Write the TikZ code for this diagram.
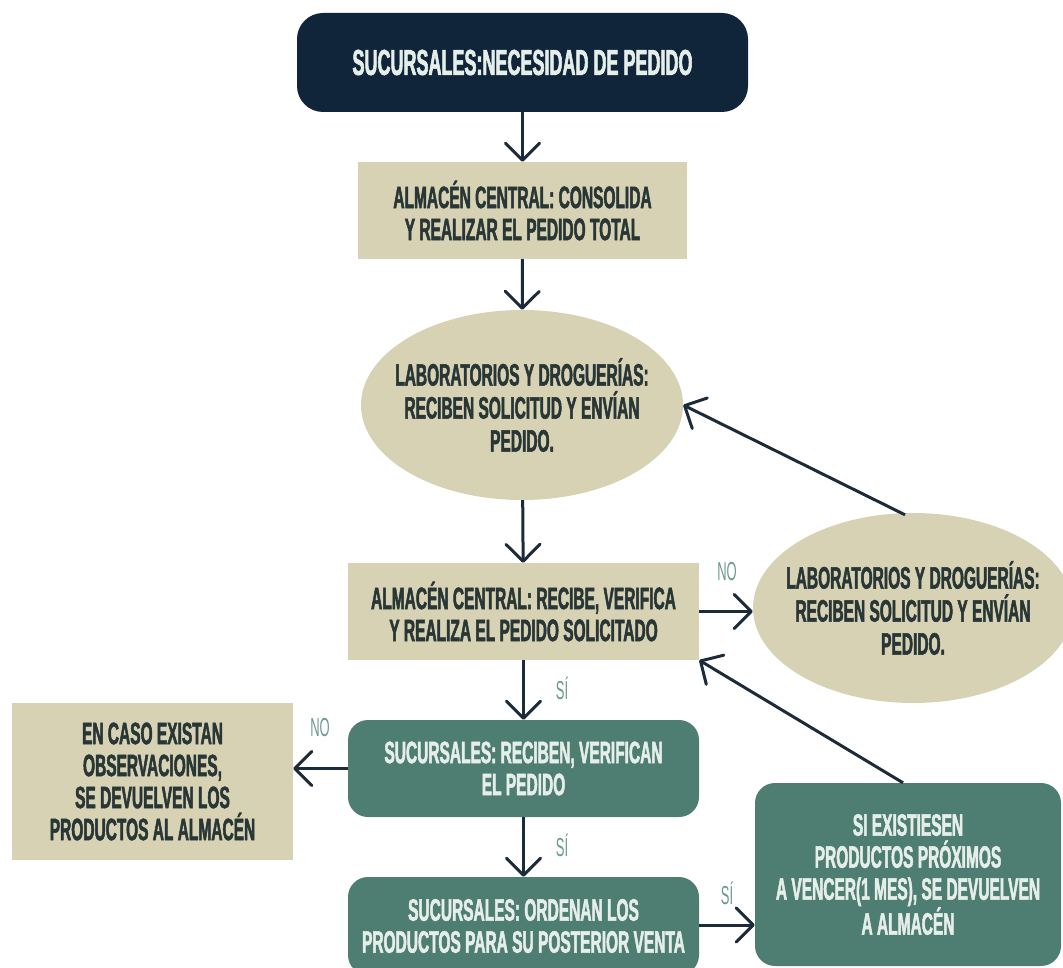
\documentclass[tikz,border=0pt]{standalone}
\usepackage{fontspec}
\setmainfont{Liberation Sans}[FakeStretch=0.5, BoldFeatures={FakeBold=1.6}]
\usetikzlibrary{arrows.meta,shapes.geometric}
\definecolor{navy}{HTML}{10253A}
\definecolor{tan}{HTML}{D7D2B4}
\definecolor{teal}{HTML}{4E7D71}
\definecolor{ink}{HTML}{283636}
\definecolor{pale}{HTML}{E6EEEA}
\definecolor{arrowc}{HTML}{1C2B3A}
\definecolor{lbl}{HTML}{6A9A90}
\begin{document}
\begin{tikzpicture}[x=1pt,y=-1pt,
  body/.style={font=\fontsize{31}{32}\selectfont\bfseries, align=center, inner sep=0pt},
  tanbox/.style={body, fill=tan, text=ink, minimum width=#1, rectangle},
  tealbox/.style={body, fill=teal, text=pale, rounded corners=20pt, minimum width=#1, rectangle},
  oval/.style={ellipse, fill=tan, minimum width=322pt, minimum height=190pt, inner sep=0pt},
  ovaltext/.style={body, font=\fontsize{31}{33}\selectfont\bfseries, text=ink},
  flow/.style={draw=arrowc, line width=3pt, -{Straight Barb[length=17pt,width=34pt,round]}},
  tag/.style={font=\fontsize{26}{26}\selectfont, text=lbl, inner sep=0pt}]
\useasboundingbox (0,0) rectangle (1063,968);

% title
\node[body, fill=navy, text=pale, rounded corners=26pt, minimum width=451pt, minimum height=99pt,
  font=\fontsize{36}{38}\selectfont\bfseries] (title) at (522.5,62.5) {SUCURSALES:NECESIDAD DE PEDIDO};

% central warehouse consolidates
\node[tanbox=329pt, minimum height=97pt] (cons) at (522.5,210.5)
  {ALMACÉN CENTRAL: CONSOLIDA\\Y REALIZAR EL PEDIDO TOTAL};

% suppliers (main)
\node[oval] (lab1) at (522,405) {};
\node[ovaltext] (lab1t) at (lab1.center)
  {LABORATORIOS Y DROGUERÍAS:\\RECIBEN SOLICITUD Y ENVÍAN\\PEDIDO.};

% central warehouse receives
\node[tanbox=351pt, minimum height=97pt] (recv) at (523.5,611.5)
  {ALMACÉN CENTRAL: RECIBE, VERIFICA\\Y REALIZA EL PEDIDO SOLICITADO};

% suppliers (retry)
\node[oval, minimum width=320pt] (lab2) at (913,608) {};
\node[ovaltext] (lab2t) at (lab2.center)
  {LABORATORIOS Y DROGUERÍAS:\\RECIBEN SOLICITUD Y ENVÍAN\\PEDIDO.};

% branches verify
\node[tealbox=351pt, minimum height=97pt] (ver) at (523.5,768.5)
  {SUCURSALES: RECIBEN, VERIFICAN\\EL PEDIDO};

% returns with observations
\node[tanbox=281pt, minimum height=157pt] (ret) at (152.5,781.5)
  {EN CASO EXISTAN\\OBSERVACIONES,\\SE DEVUELVEN LOS\\PRODUCTOS AL ALMACÉN};

% branches sort products
\node[tealbox=351pt, minimum height=98pt] (sort) at (523.5,926)
  {SUCURSALES: ORDENAN LOS\\PRODUCTOS PARA SU POSTERIOR VENTA};

% near-expiry returns
\node[tealbox=306pt, minimum height=183pt] (exp) at (908,874.5)
  {SI EXISTIESEN\\PRODUCTOS PRÓXIMOS\\A VENCER(1 MES), SE DEVUELVEN\\A ALMACÉN};

% connectors
\draw[flow] (title) -- (cons);
\draw[flow] (cons) -- (lab1);
\draw[flow] (lab1) -- (recv);
\draw[flow] (recv.east) -- (recv.east -| lab2.west);
\draw[flow] (lab2.north) ++(-8,2) coordinate (l2top) (l2top) -- (lab1.east);
\draw[flow] (exp.north) ++(-5,0) coordinate (exptop) (exptop) -- (recv.south east);
\draw[flow] (recv) -- (ver);
\draw[flow] (ver.west) -- (ret.east |- ver.west);
\draw[flow] (ver) -- (sort);
\draw[flow] (sort.east |- 0,925) coordinate (sortr) (sortr) -- (sortr -| exp.west);

% branch labels
\node[tag] (noA) at (727,572) {NO};
\node[tag] (noB) at (320,728) {NO};
\node[tag] (siA) at (562,688) {SÍ};
\node[tag] (siB) at (562,845) {SÍ};
\node[tag] (siC) at (727,893) {SÍ};
\end{tikzpicture}
\end{document}
